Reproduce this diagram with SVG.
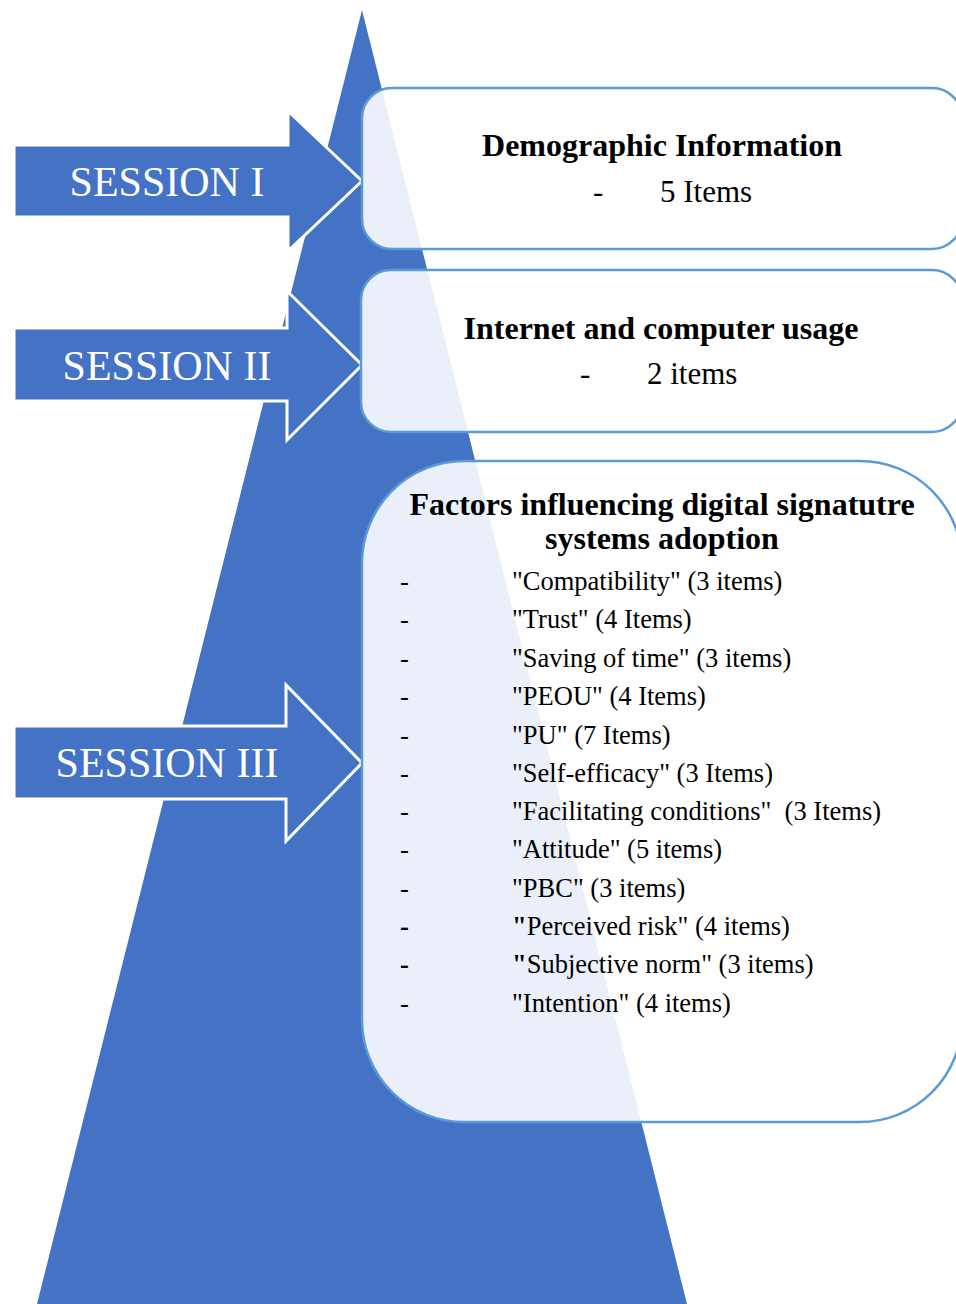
<svg xmlns="http://www.w3.org/2000/svg" width="956" height="1304" viewBox="0 0 956 1304">
<style>
.tri{fill:#4472C4}
.arrow{fill:#4472C4;stroke:#FFFFFF;stroke-width:3;stroke-linejoin:miter}
.box{fill:#FFFFFF;fill-opacity:0.89;stroke:#5B9BD5;stroke-width:2.5}
.sess{font-family:"Liberation Serif","Times New Roman",serif;font-size:42px;fill:#FFFFFF;text-anchor:middle}
.title{font-family:"Liberation Serif","Times New Roman",serif;font-size:32px;font-weight:bold;fill:#000000;text-anchor:middle}
.sub{font-family:"Liberation Serif","Times New Roman",serif;font-size:31px;fill:#000000}
.item{font-family:"Liberation Serif","Times New Roman",serif;font-size:26.5px;fill:#000000}
</style>
<rect x="0" y="0" width="956" height="1304" fill="#FFFFFF"/>
<g id="pyramid">
<polygon class="tri" points="362,10 37,1304 687,1304"/>
</g>
<g id="connectors">
<polygon id="arrow1" class="arrow" points="14,145 288,145 288,111 362,181 288,251 288,217 14,217"/>
<polygon id="arrow2" class="arrow" points="14,328 287,328 287,291 362,365 287,440 287,401 14,401"/>
<polygon id="arrow3" class="arrow" points="14,726 286,726 286,685 362,763 286,841 286,799 14,799"/>
</g>
<g id="session1">
<text class="sess" x="167" y="196">SESSION I</text>
</g>
<g id="session2">
<text class="sess" x="167" y="380">SESSION II</text>
</g>
<g id="session3">
<text class="sess" x="167" y="777">SESSION III</text>
</g>
<g id="box1">
<rect class="box" x="362" y="88" width="600" height="161" rx="30" ry="30"/>
<text class="title" x="662" y="156">Demographic Information</text>
<text class="sub" x="593" y="202">-</text>
<text class="sub" x="660" y="202">5 Items</text>
</g>
<g id="box2">
<rect class="box" x="361" y="270" width="601" height="162" rx="30" ry="30"/>
<text class="title" x="661" y="339">Internet and computer usage</text>
<text class="sub" x="580" y="384">-</text>
<text class="sub" x="647" y="384">2 items</text>
</g>
<g id="box3">
<rect class="box" x="362" y="461" width="600" height="661" rx="102" ry="102"/>
<text class="title" x="662" y="515">Factors influencing digital signatutre</text>
<text class="title" x="662" y="549">systems adoption</text>
<g class="item">
<text x="400" y="590">-</text><text x="512" y="590">"Compatibility" (3 items)</text>
<text x="400" y="628">-</text><text x="512" y="628">"Trust" (4 Items)</text>
<text x="400" y="667">-</text><text x="512" y="667">"Saving of time" (3 items)</text>
<text x="400" y="705">-</text><text x="512" y="705">"PEOU" (4 Items)</text>
<text x="400" y="744">-</text><text x="512" y="744">"PU" (7 Items)</text>
<text x="400" y="782">-</text><text x="512" y="782">"Self-efficacy" (3 Items)</text>
<text x="400" y="820">-</text><text x="512" y="820" xml:space="preserve">"Facilitating conditions"  (3 Items)</text>
<text x="400" y="858">-</text><text x="512" y="858">"Attitude" (5 items)</text>
<text x="400" y="897">-</text><text x="512" y="897">"PBC" (3 items)</text>
<text x="400" y="935" font-weight="bold">-</text><text x="512" y="935"><tspan font-weight="bold">"</tspan>Perceived risk" (4 items)</text>
<text x="400" y="973" font-weight="bold">-</text><text x="512" y="973"><tspan font-weight="bold">"</tspan>Subjective norm" (3 items)</text>
<text x="400" y="1012">-</text><text x="512" y="1012">"Intention" (4 items)</text>
</g>
</g>
</svg>
